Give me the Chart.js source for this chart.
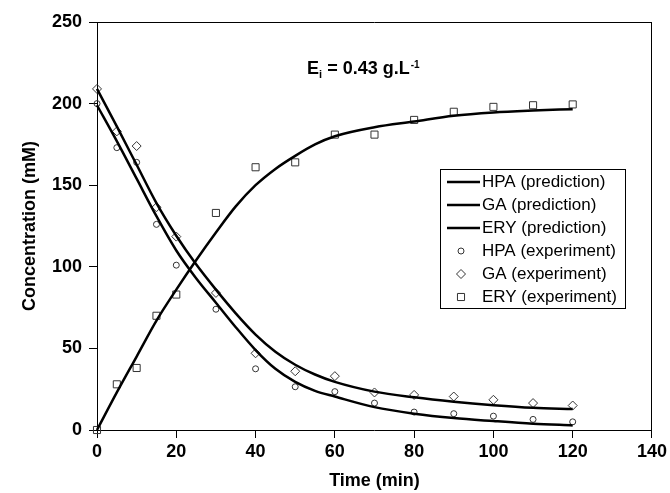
<!DOCTYPE html>
<html>
<head>
<meta charset="utf-8">
<script src="https://cdn.jsdelivr.net/npm/chart.js@4.4.1/dist/chart.umd.min.js"></script>
<style>
  html, body { margin: 0; padding: 0; background: #fff; }
  #wrap { width: 670px; height: 493px; position: relative; }
</style>
</head>
<body>
<div id="wrap"><canvas id="chart"></canvas></div>
<script>
// experiment sampling times (min)
const EXP_TIMES = [0, 5, 10, 15, 20, 30, 40, 50, 60, 70, 80, 90, 100, 110, 120];
const HPA_EXP = [200, 173, 164, 126, 101, 74, 37.5, 26.5, 23.5, 16.5, 11, 10, 8.5, 6.5, 5];
const GA_EXP = [209, 183, 174, 136.5, 118.5, 84, 47, 36, 33, 23, 21.5, 20.5, 18.5, 16.5, 15];
const ERY_EXP = [0, 28, 38, 70, 83, 133, 161, 164, 181, 181, 190, 195, 198, 199, 199.5];

// model curves
const PRED_TIMES = [0, 5, 10, 15, 20, 25, 30, 35, 40, 45, 50, 55, 60, 70, 80, 90, 100, 110, 120];
const HPA_PRED = [199, 177, 154, 131, 110, 93, 78, 63, 49, 37.5, 29.5, 24, 20.5, 14, 10, 7.3, 5.5, 3.9, 2.8];
const GA_PRED = [209, 186, 162.5, 139, 119, 101.5, 86, 71.5, 58.5, 48, 40, 34, 29.5, 23.5, 20, 17.3, 15.2, 13.6, 12.8];
const ERY_PRED = [0, 23, 45, 67, 86, 104, 121, 137, 150, 160, 168, 175, 180, 185.5, 189, 192.5, 194.5, 195.7, 196.6];

const X_TICKS = [0, 20, 40, 60, 80, 100, 120, 140];
const Y_TICKS = [0, 50, 100, 150, 200, 250];

const FONT = "'Liberation Sans', Arial, sans-serif";

function toPoints(xs, ys) {
  return xs.map((x, i) => ({ x, y: ys[i] }));
}

function predLine(label, ys) {
  return {
    label,
    data: toPoints(PRED_TIMES, ys),
    showLine: true,
    borderColor: "#000",
    borderWidth: 2.5,
    pointRadius: 0,
    pointStyle: "line",
    cubicInterpolationMode: "monotone",
    clip: false,
  };
}

function expPoints(label, ys, style, radius) {
  return {
    label,
    data: toPoints(EXP_TIMES, ys),
    showLine: false,
    pointStyle: style,
    pointRadius: radius,
    pointBorderWidth: 1,
    borderColor: "#333",
    backgroundColor: "rgba(255,255,255,0)",
    clip: false,
  };
}

// legend box drawn inside the plot
const boxLegend = {
  id: "boxLegend",
  afterDraw(chart) {
    const { ctx } = chart;
    const left = 440, top = 169, w = 185, h = 139, rowH = 23;
    ctx.save();
    ctx.strokeStyle = "#000";
    ctx.lineWidth = 1;
    ctx.strokeRect(left + 0.5, top + 0.5, w, h);
    ctx.font = "17px " + FONT;
    ctx.fillStyle = "#000";
    ctx.textBaseline = "middle";
    chart.data.datasets.forEach((ds, i) => {
      const cy = top + 13 + i * rowH;
      if (ds.showLine) {
        ctx.strokeStyle = "#000";
        ctx.lineWidth = 2.5;
        ctx.beginPath();
        ctx.moveTo(447, cy);
        ctx.lineTo(480, cy);
        ctx.stroke();
      } else {
        ctx.strokeStyle = ds.borderColor;
        ctx.fillStyle = "rgba(255,255,255,0)";
        ctx.lineWidth = 1;
        Chart.helpers.drawPoint(ctx, { pointStyle: ds.pointStyle, radius: ds.pointRadius, borderWidth: 1, rotation: 0 }, 461, cy);
        ctx.fillStyle = "#000";
      }
      ctx.fillText(ds.label, 482, cy);
    });
    ctx.restore();
  },
};

// "Ei = 0.43 g.L-1" note
const enzymeNote = {
  id: "enzymeNote",
  afterDraw(chart) {
    const { ctx } = chart;
    const xs = chart.scales.x, ys = chart.scales.y;
    let x = xs.getPixelForValue(53);
    const base = ys.getPixelForValue(218);
    ctx.save();
    ctx.fillStyle = "#000";
    ctx.textBaseline = "alphabetic";
    ctx.font = "bold 18px " + FONT;
    ctx.fillText("E", x, base);
    x += ctx.measureText("E").width;
    ctx.font = "bold 11px " + FONT;
    ctx.fillText("i", x, base + 4);
    x += ctx.measureText("i").width;
    ctx.font = "bold 18px " + FONT;
    ctx.fillText(" = 0.43 g.L", x, base);
    x += ctx.measureText(" = 0.43 g.L").width;
    ctx.font = "bold 10px " + FONT;
    ctx.fillText("-1", x + 1, base - 6);
    ctx.restore();
  },
};

const frameAxis = {
  display: true,
  type: "linear",
  grid: { display: false, drawTicks: false },
  border: { display: true, color: "#000", width: 1 },
  ticks: { display: false },
};

new Chart(document.getElementById("chart"), {
  type: "scatter",
  data: {
    datasets: [
      predLine("HPA (prediction)", HPA_PRED),
      predLine("GA (prediction)", GA_PRED),
      predLine("ERY (prediction)", ERY_PRED),
      expPoints("HPA (experiment)", HPA_EXP, "circle", 3),
      expPoints("GA (experiment)", GA_EXP, "rectRot", 4.5),
      expPoints("ERY (experiment)", ERY_EXP, "rect", 5),
    ],
  },
  options: {
    responsive: true,
    maintainAspectRatio: false,
    animation: false,
    devicePixelRatio: 1,
    layout: { padding: { top: 22, right: 17, left: 0, bottom: 0 } },
    plugins: {
      legend: { display: false },
      tooltip: { enabled: false },
    },
    scales: {
      x: {
        type: "linear",
        position: "bottom",
        min: 0,
        max: 140,
        afterBuildTicks: (s) => { s.ticks = X_TICKS.map((v) => ({ value: v })); },
        afterFit: (s) => { s.height = 63; },
        ticks: { color: "#000", padding: 3, font: { family: FONT, size: 18, weight: "bold" } },
        grid: { drawOnChartArea: false, tickLength: 8, tickColor: "#000", tickWidth: 1 },
        border: { color: "#000", width: 1 },
        title: { display: true, text: "Time (min)", color: "#000", padding: { top: 0, bottom: 1 }, font: { family: FONT, size: 18, weight: "bold" } },
      },
      y: {
        type: "linear",
        position: "left",
        min: 0,
        max: 250,
        afterBuildTicks: (s) => { s.ticks = Y_TICKS.map((v) => ({ value: v })); },
        afterFit: (s) => { s.width = 97; },
        ticks: { color: "#000", padding: 7, font: { family: FONT, size: 18, weight: "bold" } },
        grid: { drawOnChartArea: false, tickLength: 8, tickColor: "#000", tickWidth: 1 },
        border: { color: "#000", width: 1 },
        title: { display: true, text: "Concentration (mM)", color: "#000", padding: { top: 19, bottom: 0 }, font: { family: FONT, size: 18, weight: "bold" } },
      },
      xTop: Object.assign({}, frameAxis, { position: "top", min: 0, max: 140, afterFit: (s) => { s.height = 0; } }),
      yRight: Object.assign({}, frameAxis, { position: "right", min: 0, max: 250, afterFit: (s) => { s.width = 0; } }),
    },
  },
  plugins: [boxLegend, enzymeNote],
});
</script>
</body>
</html>
